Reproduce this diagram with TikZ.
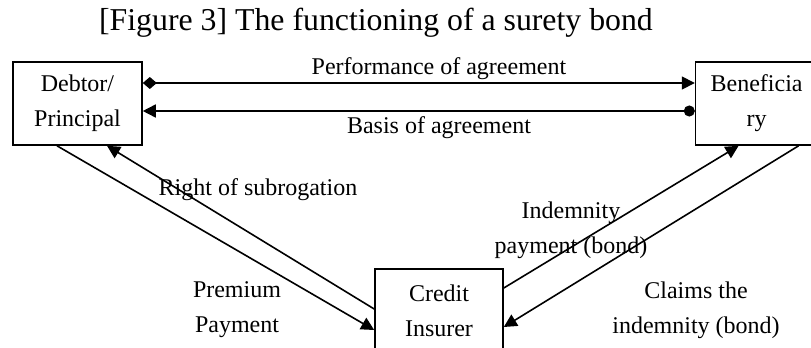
\documentclass[tikz,border=0pt]{standalone}
\usepackage{fontspec}
\setmainfont{Liberation Serif}
\usetikzlibrary{arrows.meta,positioning}
\tikzset{
  box/.style={draw=black, line width=0.8pt, align=center, fill=white, minimum width=64.5pt, minimum height=41.5pt, inner sep=2pt, font=\fontsize{12}{17.5}\selectfont},
  lbl/.style={align=center, inner sep=0pt, font=\fontsize{12}{17.5}\selectfont},
  arr/.style={-{Triangle[length=6.5pt,width=6.5pt]}, line width=0.8pt},
  darr/.style={{Diamond[length=7pt,width=6pt]}-{Triangle[length=6.5pt,width=6.5pt]}, line width=0.8pt},
  carr/.style={{Circle[length=5.5pt]}-{Triangle[length=6.5pt,width=6.5pt]}, line width=0.8pt}
}
\begin{document}
\begin{tikzpicture}[x=0.5pt, y=-0.5pt]
\useasboundingbox (0,0) rectangle (811,348);
\node[lbl, font=\fontsize{15.9}{18}\selectfont] (title) at (376,23) {[Figure 3] The functioning of a surety bond};
\node[box] (debtor) at (77.5,103.5) {Debtor/\\Principal};
\node[box, minimum width=61pt, right=276pt of debtor] (ben) {Beneficia\\ry};
\node[box, minimum width=64pt] (ins) at (439,310.5) {Credit\\Insurer};
\draw[darr] ([yshift=10.25pt]debtor.east) -- ([yshift=10.25pt]ben.west);
\draw[carr] ([yshift=-3.75pt]ben.west) -- ([yshift=-3.75pt]debtor.east);
\draw[arr] ([xshift=-10.25pt]debtor.south) -- ([yshift=-9.75pt]ins.west);
\draw[arr] ([yshift=0.75pt]ins.west) -- ([xshift=14.75pt]debtor.south);
\draw[arr] ([yshift=11.25pt]ins.east) -- ([xshift=-9pt]ben.south);
\draw[arr] ([xshift=21pt]ben.south) -- ([yshift=-8.25pt]ins.east);
\node[lbl] (perf) at (439,69) {Performance of agreement};
\node[lbl] (basis) at (439,128) {Basis of agreement};
\node[lbl] (subro) at (258,190) {Right of subrogation};
\node[lbl] (prem) at (237,310) {Premium\\Payment};
\node[lbl] (indem) at (571,230) {Indemnity\\payment (bond)};
\node[lbl] (claim) at (696,310) {Claims the\\indemnity (bond)};
\end{tikzpicture}
\end{document}
